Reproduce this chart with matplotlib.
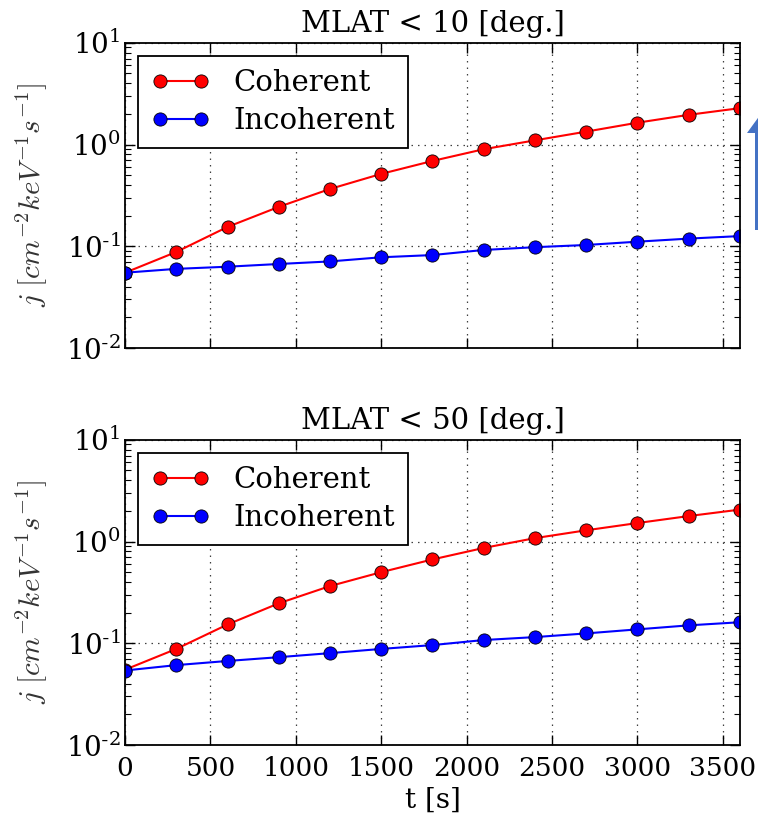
import numpy as np
import matplotlib
matplotlib.use("Agg")
import matplotlib.pyplot as plt
from matplotlib.patches import FancyArrow
from matplotlib.ticker import FuncFormatter

plt.rcParams['font.family'] = 'DejaVu Serif'
plt.rcParams['mathtext.fontset'] = 'cm'
plt.rcParams['axes.unicode_minus'] = False

t = [0, 300, 600, 900, 1200, 1500, 1800, 2100, 2400, 2700, 3000, 3300, 3600]

# MLAT < 10
coh_10 = [0.055, 0.088, 0.155, 0.244, 0.366, 0.515, 0.69, 0.90, 1.10, 1.34, 1.64, 1.96, 2.28]
inc_10 = [0.055, 0.060, 0.063, 0.067, 0.071, 0.078, 0.082, 0.092, 0.098, 0.103, 0.111, 0.119, 0.126]
# MLAT < 50
coh_50 = [0.055, 0.088, 0.153, 0.247, 0.365, 0.50, 0.667, 0.865, 1.08, 1.29, 1.52, 1.78, 2.06]
inc_50 = [0.054, 0.061, 0.067, 0.073, 0.080, 0.088, 0.096, 0.1076, 0.115, 0.125, 0.137, 0.150, 0.161]

titles = ["MLAT < 10 [deg.]", "MLAT < 50 [deg.]"]
xticks = [0, 500, 1000, 1500, 2000, 2500, 3000, 3500]


def logfmt(v, pos):
    e = int(round(np.log10(v)))
    s = str(e) if e >= 0 else r"\text{-}" + str(-e)
    return r"$\mathdefault{10^{%s}}$" % s


fig = plt.figure(figsize=(7.58, 8.16), dpi=100)
ax1 = fig.add_axes([0.165, 0.5735, 0.811, 0.374])
ax2 = fig.add_axes([0.165, 0.087, 0.811, 0.374])

for ax, coh, inc, title in [(ax1, coh_10, inc_10, titles[0]), (ax2, coh_50, inc_50, titles[1])]:
    ax.plot(t, coh, 'o-', color='red', mfc='red', mec='black', mew=0.6, ms=9.5, lw=1.5, label="Coherent")
    ax.plot(t, inc, 'o-', color='blue', mfc='blue', mec='black', mew=0.6, ms=9.5, lw=1.5, label="Incoherent")
    ax.set_yscale('log')
    ax.set_ylim(1e-2, 1e1)
    ax.set_xlim(0, 3600)
    ax.set_xticks(xticks)
    ax.yaxis.set_major_formatter(FuncFormatter(logfmt))
    ax.grid(True, which='major', color='0.25', linestyle=(0, (1.2, 4)), lw=0.9)
    ax.tick_params(which='both', direction='in', top=True, right=True, labelsize=19)
    ax.tick_params(axis='y', labelsize=20)
    ax.tick_params(axis='x', pad=8)
    ax.tick_params(which='major', length=7, width=1)
    ax.tick_params(which='minor', length=4, width=0.8)
    for s in ax.spines.values():
        s.set_linewidth(1.3)
    ax.set_title(title, fontsize=21, pad=8)
    ax.set_ylabel(r"$j\ [cm^{-2} keV^{-1} s^{-1}]$", fontsize=21, labelpad=12, color='0.2')
    leg = ax.legend(loc='upper left', numpoints=2, fontsize=21, fancybox=False,
                    framealpha=1, edgecolor='black', handlelength=2.0, borderpad=0.45,
                    labelspacing=0.35, handletextpad=0.8, borderaxespad=0.45)
    leg.get_frame().set_linewidth(1.3)

ax1.tick_params(labelbottom=False)
ax2.set_xlabel("t [s]", fontsize=20, labelpad=4)

arrow = FancyArrow(7.63, 5.86, 0, 1.19, width=0.16, head_width=0.32, head_length=0.22,
                   length_includes_head=True, transform=fig.dpi_scale_trans,
                   color='#4472C4', lw=0)
fig.add_artist(arrow)

fig.savefig("out.png", dpi=100)
